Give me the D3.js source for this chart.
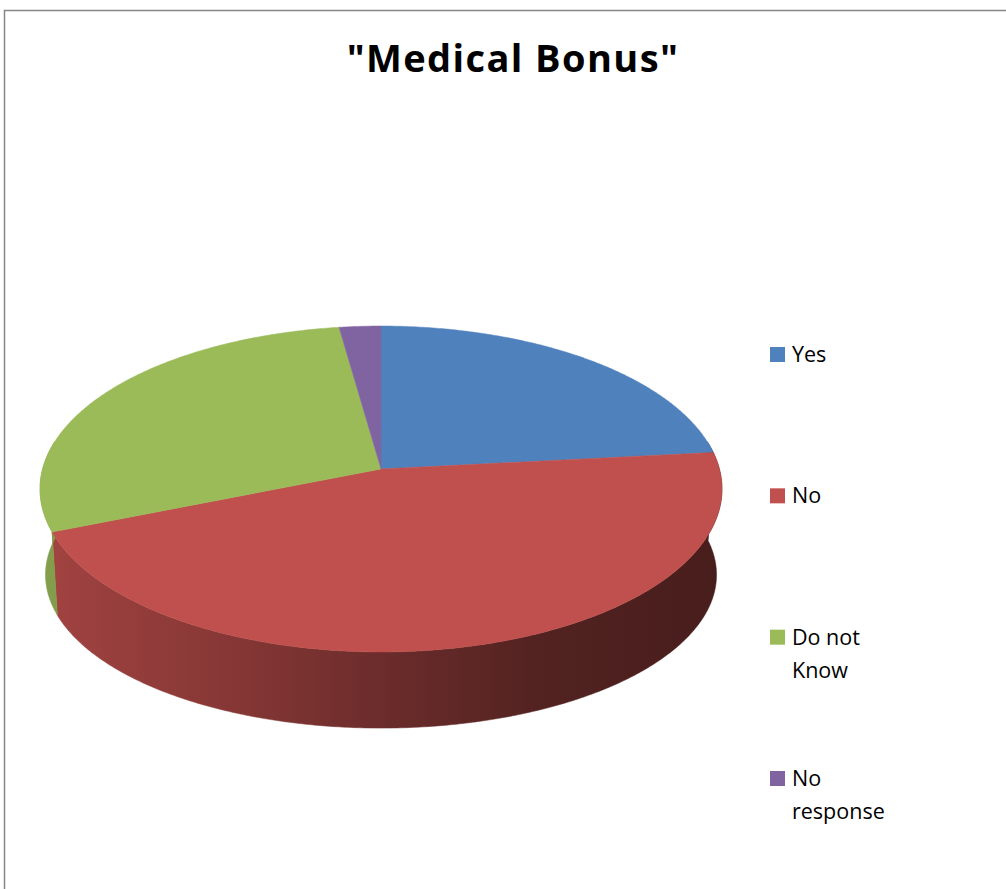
<!DOCTYPE html>
<html>
<head>
<meta charset="utf-8">
<script src="https://cdn.jsdelivr.net/npm/d3@7"></script>
<style>
  html, body { margin: 0; padding: 0; background: #fff; }
  svg { display: block; }
</style>
</head>
<body>
<svg id="chart" width="1006" height="889"></svg>
<script>
// Survey answers: "Medical Bonus"
const categories = ["Yes", "No", "Do not Know", "No response"];
const legendLines = [["Yes"], ["No"], ["Do not", "Know"], ["No", "response"]];
const responses = [21, 41, 26, 2];
const colors = ["#4f81bd", "#c0504d", "#9bbb59", "#8064a2"];

const svg = d3.select("#chart");

// chart frame
svg.append("path")
  .attr("d", "M4.5,889 V10.5 H1006")
  .attr("fill", "none")
  .attr("stroke", "#868686")
  .attr("stroke-width", 1.5);

// title
svg.append("text")
  .attr("x", 513).attr("y", 72)
  .attr("text-anchor", "middle")
  .attr("font-family", "'Open Sans', Lato, sans-serif")
  .attr("font-weight", "bold")
  .attr("font-size", 38)
  .attr("letter-spacing", 1.4)
  .attr("fill", "#000")
  .text('"Medical Bonus"');

// perspective projection of the pie disc: each face is a foreshortened circle
const p = 0.1227;                                   // foreshortening of the tilted disc
const topFace = { cx: 381, cy: 469, rx: 338.4, ry: 160.5 };
const bottomFace = { cx: 381, cy: 556, rx: 333, ry: 151 };

function project(a, face) {
  const u = Math.sin(a), v = -Math.cos(a);
  const w = 1 - p * v;
  return [face.cx + face.rx * u / w, face.cy + face.ry * v / w];
}

function arcPoints(a0, a1, face) {
  const n = Math.max(2, Math.ceil(Math.abs(a1 - a0) / (Math.PI / 360)));
  const pts = [];
  for (let i = 0; i <= n; i++) pts.push(project(a0 + (a1 - a0) * i / n, face));
  return pts;
}

const pie = d3.pie().sort(null).startAngle(0).endAngle(2 * Math.PI);
const arcs = pie(responses);

const defs = svg.append("defs");
// side shading: lit from the left, darker toward the right
const shade = [[40, 0.86], [60, 0.83], [250, 0.68], [400, 0.54], [550, 0.42], [700, 0.38], [722, 0.37]];
arcs.forEach((d, i) => {
  const base = d3.rgb(colors[i]);
  const g = defs.append("linearGradient")
    .attr("id", "side" + i)
    .attr("gradientUnits", "userSpaceOnUse")
    .attr("x1", 40).attr("x2", 722).attr("y1", 0).attr("y2", 0);
  shade.forEach(([x, k]) => {
    g.append("stop")
      .attr("offset", (x - 40) / (722 - 40))
      .attr("stop-color", d3.rgb(base.r * k, base.g * k, base.b * k).formatHex());
  });
});

// outer walls (front half only)
const frontStart = 80 * Math.PI / 180, frontEnd = 280 * Math.PI / 180;
const sides = svg.append("g");
arcs.forEach((d, i) => {
  const a0 = Math.max(d.startAngle, frontStart), a1 = Math.min(d.endAngle, frontEnd);
  if (a1 <= a0) return;
  const pts = arcPoints(a0, a1, topFace).concat(arcPoints(a1, a0, bottomFace));
  sides.append("path")
    .attr("d", d3.line()(pts) + "Z")
    .attr("fill", `url(#side${i})`)
    .attr("stroke", `url(#side${i})`)
    .attr("stroke-width", 0.5);
});

// top faces
const tops = svg.append("g");
arcs.forEach((d, i) => {
  const pts = [[topFace.cx, topFace.cy]].concat(arcPoints(d.startAngle, d.endAngle, topFace));
  tops.append("path")
    .attr("d", d3.line()(pts) + "Z")
    .attr("fill", colors[i])
    .attr("stroke", colors[i])
    .attr("stroke-width", 0.5);
});

// legend
const legendY = d3.scalePoint().domain(categories).range([355, 779]);
const legend = svg.append("g");
categories.forEach((c, i) => {
  const y = legendY(c);
  legend.append("rect")
    .attr("x", 770).attr("y", y - 8)
    .attr("width", 15).attr("height", 15)
    .attr("fill", colors[i]);
  const t = legend.append("text")
    .attr("font-family", "'Open Sans', Lato, sans-serif")
    .attr("font-size", 21.5)
    .attr("fill", "#000");
  legendLines[i].forEach((line, j) => {
    t.append("tspan").attr("x", 792).attr("y", y + 7 + j * 33).text(line);
  });
});
</script>
</body>
</html>
